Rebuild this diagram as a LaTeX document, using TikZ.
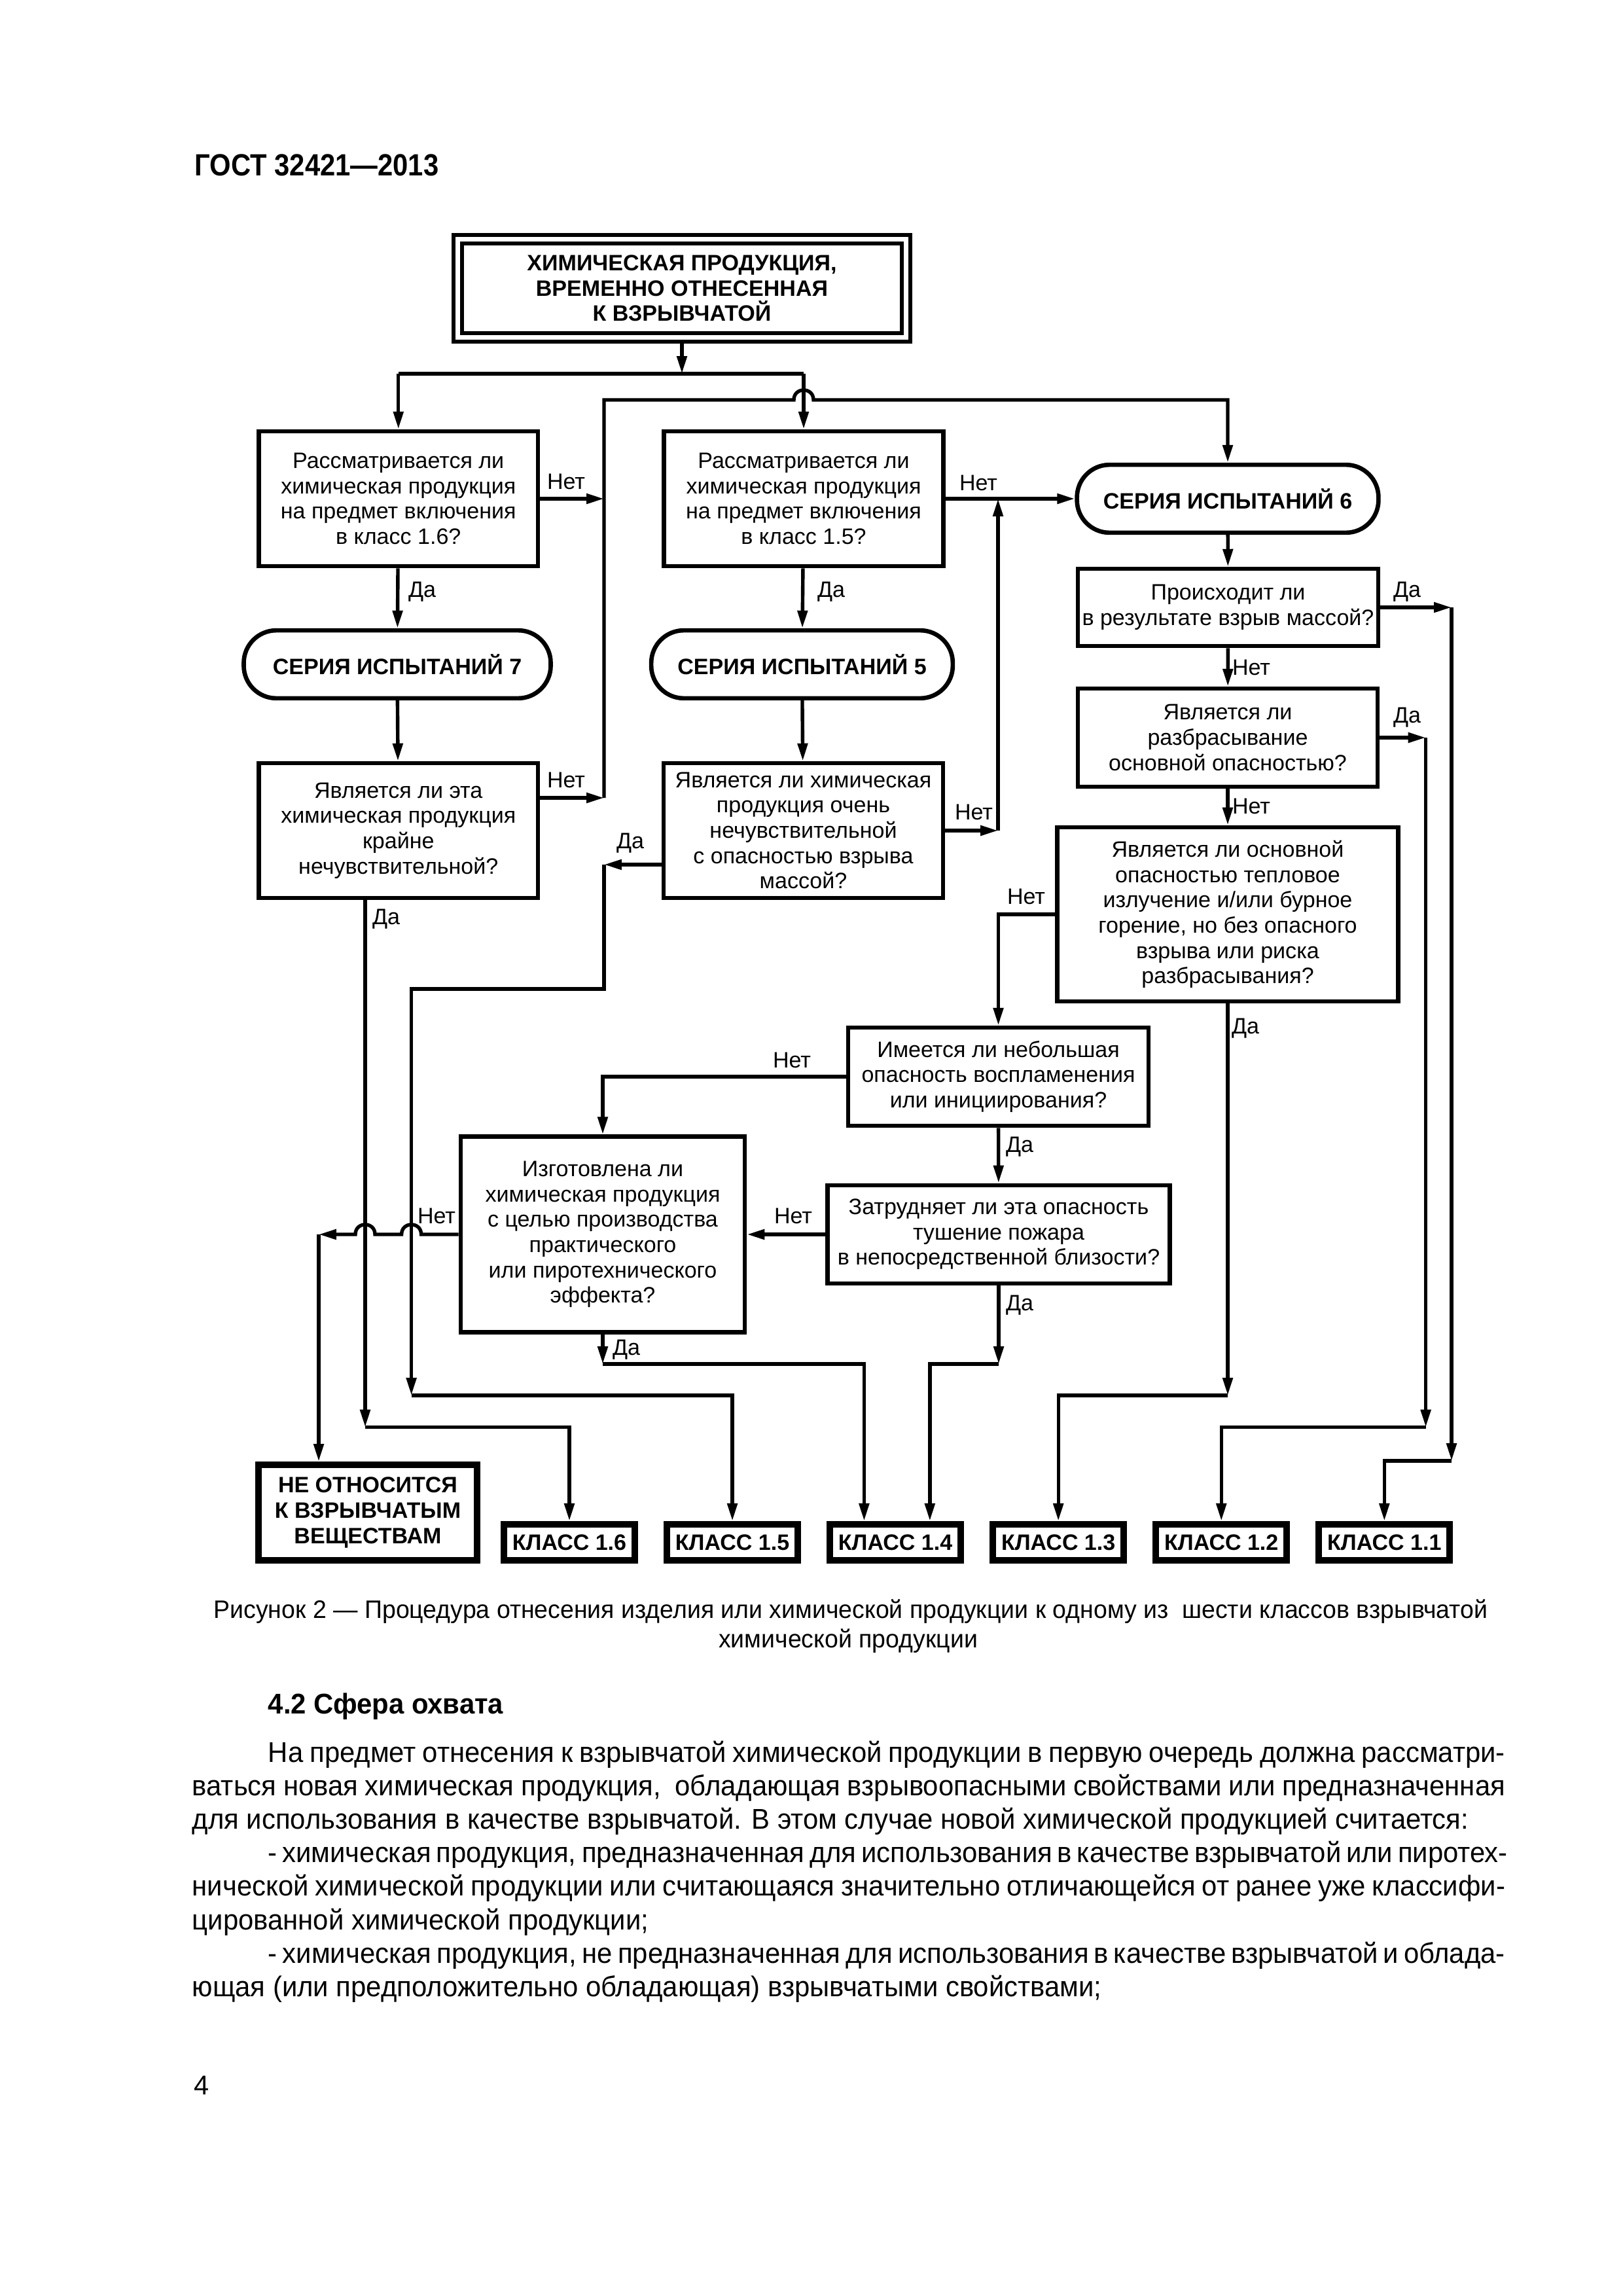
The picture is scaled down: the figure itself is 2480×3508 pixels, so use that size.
\documentclass[tikz,border=0pt]{standalone}
\usepackage{graphicx}
\usepackage{fontspec}
\setmainfont{Liberation Sans}
\usetikzlibrary{arrows.meta,positioning}
\newcommand{\jline}[2]{\scalebox{0.96}[1]{\makebox[#1][s]{#2}}}
\newcommand{\nline}[1]{\scalebox{0.96}[1]{#1}}

\begin{document}
\begin{tikzpicture}[
    x=0.2409pt, y=-0.2409pt,
    every node/.style={inner sep=0pt},
    node distance=9.4pt,
    box/.style={rectangle,draw,line width=1.6pt,align=center,
      font=\fontsize{8.2}{9.3}\selectfont},
    hbox/.style={box,font=\fontsize{8.2}{9.3}\selectfont\bfseries},
    ser/.style={hbox,rounded corners=12pt,minimum height=25pt},
    cls/.style={hbox,line width=2.4pt,minimum width=48.2pt,minimum height=13.3pt},
    lbl/.style={font=\fontsize{8.2}{9.3}\selectfont},
    arr/.style={-{Triangle[length=6.5pt,width=3.6pt]},line width=1.3pt},
    ln/.style={line width=1.3pt},
    txt/.style={anchor=base west,font=\fontsize{10.5}{12.3}\selectfont}
  ]
    \useasboundingbox[fill=white] (0,0) rectangle (2480,3508);

    \node[anchor=base west,font=\fontsize{11.3}{13}\selectfont\bfseries] (hdr) at (297,268)
      {\scalebox{0.89}[1]{ГОСТ 32421—2013}};

    \node[hbox,double,double distance=1.6pt,line width=1.5pt,minimum width=165pt,minimum height=36.1pt]
      (start) at (1042,440.5) {ХИМИЧЕСКАЯ ПРОДУКЦИЯ,\\ВРЕМЕННО ОТНЕСЕННАЯ\\К ВЗРЫВЧАТОЙ};
    \node[box,minimum width=102.7pt,minimum height=49.6pt] (inc16) at (608.75,762)
      {Рассматривается ли\\химическая продукция\\на предмет включения\\в класс 1.6?};
    \node[box,minimum width=103pt,minimum height=49.6pt] (inc15) at (1228,762)
      {Рассматривается ли\\химическая продукция\\на предмет включения\\в класс 1.5?};
    \node[ser,minimum width=113pt] (ser7) at (607,1015) {СЕРИЯ ИСПЫТАНИЙ 7};
    \node[ser,minimum width=111pt] (ser5) at (1225.5,1015) {СЕРИЯ ИСПЫТАНИЙ 5};
    \node[ser,minimum width=111pt] (ser6) at (1876,762) {СЕРИЯ ИСПЫТАНИЙ 6};
    \node[box,minimum width=102.7pt,minimum height=49.6pt] (ins7) at (608.75,1269)
      {Является ли эта\\химическая продукция\\крайне\\нечувствительной?};
    \node[box,minimum width=102.9pt,minimum height=49.6pt] (ins5) at (1227.5,1269)
      {Является ли химическая\\продукция очень\\нечувствительной\\с опасностью взрыва\\массой?};
    \node[box,minimum width=110.6pt,minimum height=28.4pt] (mass) at (1876.5,928)
      {Происходит ли\\в результате взрыв массой?};
    \node[box,minimum width=110.4pt,minimum height=36.1pt] (proj) at (1876,1127)
      {Является ли\\разбрасывание\\основной опасностью?};
    \node[box,minimum width=125.5pt,minimum height=64.1pt] (heat) at (1876,1397)
      {Является ли основной\\опасностью тепловое\\излучение и/или бурное\\горение, но без опасного\\взрыва или риска\\разбрасывания?};
    \node[box,minimum width=110.6pt,minimum height=36.1pt] (ign) at (1525.5,1645)
      {Имеется ли небольшая\\опасность воспламенения\\или инициирования?};
    \node[box,minimum width=126pt,minimum height=36.2pt] (fire) at (1526,1886)
      {Затрудняет ли эта опасность\\тушение пожара\\в непосредственной близости?};
    \node[box,minimum width=104.6pt,minimum height=72pt] (prac) at (921,1886)
      {Изготовлена ли\\химическая продукция\\с целью производства\\практического\\или пиротехнического\\эффекта?};
    \node[cls,minimum width=80.6pt,minimum height=35.2pt] (notexp) at (562,2311)
      {НЕ ОТНОСИТСЯ\\К ВЗРЫВЧАТЫМ\\ВЕЩЕСТВАМ};

    \node[cls] (k16) at (870,2356.5) {КЛАСС 1.6};
    \node[cls,right=of k16] (k15) {КЛАСС 1.5};
    \node[cls,right=of k15] (k14) {КЛАСС 1.4};
    \node[cls,right=of k14] (k13) {КЛАСС 1.3};
    \node[cls,right=of k13] (k12) {КЛАСС 1.2};
    \node[cls,right=of k12] (k11) {КЛАСС 1.1};

    \coordinate (jM) at (1042,571);
    \coordinate (jL) at (608.75,571);
    \coordinate (jR) at (1228,571);
    \coordinate (a0) at (923,611);
    \coordinate (a1) at (923,762);
    \coordinate (a2) at (923,1219);
    \coordinate (b0) at (1525,762);
    \coordinate (b1) at (1525,1269);
    \coordinate (c1) at (2218,928);
    \coordinate (c1b) at (2218,2232);
    \coordinate (c2) at (2178.6,1127);
    \coordinate (c2b) at (2178.6,2180.7);
    \coordinate (c3) at (1876,2132);
    \coordinate (c4) at (1526,2084);
    \coordinate (c5) at (921,2084);
    \coordinate (c6) at (487,1886);
    \coordinate (d1) at (558,2180.7);
    \coordinate (e1) at (923,1321);
    \coordinate (e2) at (628.6,2132);

    \draw[arr] (start) -- (jM);
    \draw[ln] (jL) -- (jR);
    \draw[arr] (jL) -- (inc16);
    \draw[arr] (jR) -- (inc15);
    \draw[arr] (inc16) -- (a1);
    \draw[arr] (ins7.east |- a2) -- (a2);
    \draw[arr] (a2) -- (a0) -- (1213,611) .. controls (1213,591) and (1243,591) .. (1243,611) -| (ser6);
    \draw[arr] (inc15) -- (ser6);
    \draw[arr] (ins5) -- (b1);
    \draw[arr] (b1) -- (b0);
    \draw[arr] (inc16) -- (ser7);
    \draw[arr] (inc15) -- (ser5);
    \draw[arr] (ser7) -- (ins7);
    \draw[arr] (ser5) -- (ins5);

    \draw[arr] (ser6) -- (mass);
    \draw[arr] (mass) -- (proj);
    \draw[arr] (proj) -- (heat);
    \draw[arr] (mass) -- (c1);
    \draw[arr] (c1) -- (c1b);
    \draw[arr] (c1b) -| (k11);
    \draw[arr] (proj) -- (c2);
    \draw[arr] (c2) -- (c2b);
    \draw[arr] (c2b) -| (k12);
    \draw[arr] (heat) -| (ign);
    \draw[arr] (heat) -- (c3);
    \draw[arr] (c3) -| (k13);
    \draw[arr] (ign) -- (fire);
    \draw[arr] (ign) -| (prac);
    \draw[arr] (fire) -- (prac);
    \draw[arr] (fire) -- (c4);
    \draw[arr] (c4) -| ([xshift=12.7pt]k14.north);
    \draw[arr] (prac) -- (c5);
    \draw[arr] (c5) -| ([xshift=-11.5pt]k14.north);
    \draw[arr] (prac.west) -- (643.6,1886) .. controls (643.6,1866) and (613.6,1866) .. (613.6,1886)
      -- (573,1886) .. controls (573,1866) and (543,1866) .. (543,1886) -- (c6);
    \draw[arr] (c6) -- (c6 |- notexp.north);
    \draw[arr] (ins7.south -| d1) -- (d1);
    \draw[arr] (d1) -| (k16);
    \draw[arr] (ins5.west |- e1) -- (e1);
    \draw[arr] (e1) -- (923,1511) -- (628.6,1511) -- (e2);
    \draw[arr] (e2) -| (k15);

    \node[lbl] (l1) at (645,904) {Да};
    \node[lbl] (l2) at (1270,904) {Да};
    \node[lbl] (l3) at (865,736) {Нет};
    \node[lbl] (l4) at (1495,738) {Нет};
    \node[lbl] (l5) at (865,1192) {Нет};
    \node[lbl] (l6) at (1488,1241) {Нет};
    \node[lbl] (l7) at (963,1288) {Да};
    \node[lbl] (l8) at (590,1404) {Да};
    \node[lbl] (l9) at (2150,904) {Да};
    \node[lbl] (l10) at (1912,1020) {Нет};
    \node[lbl] (l11) at (2150,1096) {Да};
    \node[lbl] (l12) at (1912,1232) {Нет};
    \node[lbl] (l13) at (1568,1370) {Нет};
    \node[lbl] (l14) at (1903,1571) {Да};
    \node[lbl] (l15) at (1210,1620) {Нет};
    \node[lbl] (l16) at (1558,1752) {Да};
    \node[lbl] (l17) at (1212,1858) {Нет};
    \node[lbl] (l18) at (667,1858) {Нет};
    \node[lbl] (l19) at (957,2062) {Да};
    \node[lbl] (l20) at (1558,1994) {Да};

    \node[anchor=base,font=\fontsize{9.3}{10.7}\selectfont] (cap1) at (1300,2472)
      {\scalebox{0.97}[1]{Рисунок 2 — Процедура отнесения изделия или химической продукции к одному из~ шести классов взрывчатой}};
    \node[anchor=base,font=\fontsize{9.3}{10.7}\selectfont] (cap2) at (1296,2517)
      {\scalebox{0.97}[1]{химической продукции}};

    \node[txt,font=\fontsize{10.5}{12.3}\selectfont\bfseries] (sec) at (409,2618) {\nline{4.2 Сфера охвата}};
    \node[txt] (p1) at (409,2692) {\jline{474.3pt}{На предмет отнесения к взрывчатой химической продукции в первую очередь должна рассматри-}};
    \node[txt] (p2) at (293,2743.2) {\jline{503.4pt}{ваться новая химическая продукция,~ обладающая взрывоопасными свойствами или предназначенная}};
    \node[txt] (p3) at (293,2794.4) {\nline{для использования в качестве взрывчатой. В этом случае новой химической продукцией считается:}};
    \node[txt] (p4) at (409,2845.6) {\jline{474.3pt}{- химическая продукция, предназначенная для использования в качестве взрывчатой или пиротех-}};
    \node[txt] (p5) at (293,2896.8) {\jline{503.4pt}{нической химической продукции или считающаяся значительно отличающейся от ранее уже классифи-}};
    \node[txt] (p6) at (293,2948) {\nline{цированной химической продукции;}};
    \node[txt] (p7) at (409,2999.2) {\jline{474.3pt}{- химическая продукция, не предназначенная для использования в качестве взрывчатой и облада-}};
    \node[txt] (p8) at (293,3050.4) {\nline{ющая (или предположительно обладающая) взрывчатыми свойствами;}};

    \node[anchor=base west,font=\fontsize{10}{12}\selectfont] (pg) at (296,3200) {4};
  \end{tikzpicture}
\end{document}
